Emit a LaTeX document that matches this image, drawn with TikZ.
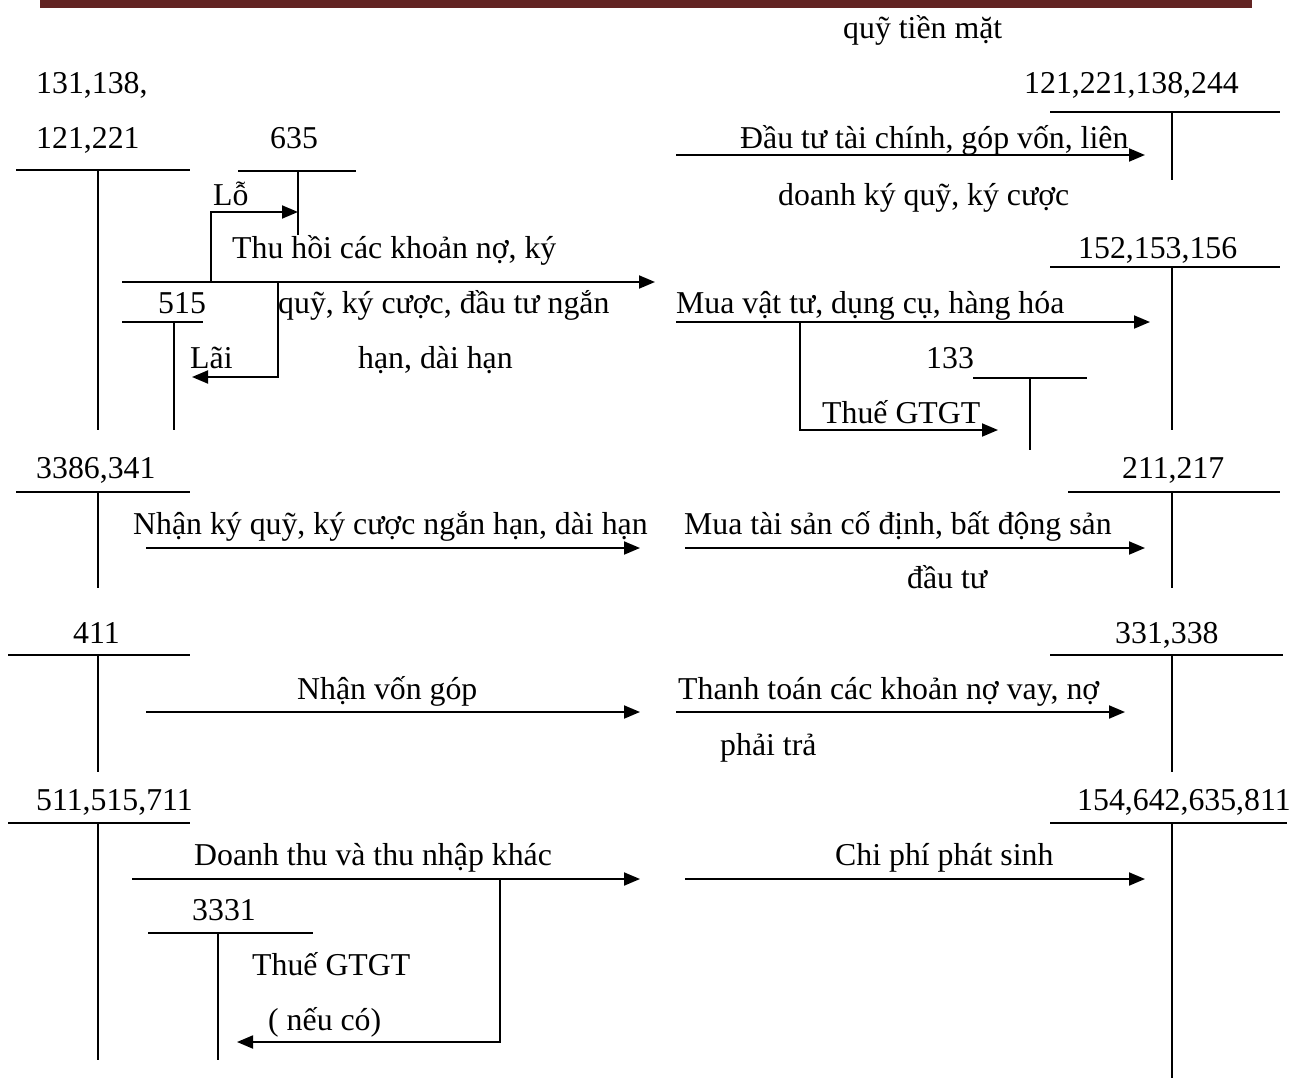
\documentclass[tikz,border=0pt]{standalone}
\usepackage{fontspec}
\setmainfont{Liberation Serif}
\usetikzlibrary{arrows.meta}
\definecolor{hbar}{HTML}{622423}
\tikzset{
  acc/.style  = {line width=1.9pt},
  flow/.style = {line width=1.9pt, -{Triangle[length=16pt,width=13pt]}},
  lbl/.style  = {inner sep=0pt, anchor=base west, font=\fontsize{31.8}{36}\selectfont},
}

\begin{document}
\begin{tikzpicture}[x=1pt,y=-1pt]
\useasboundingbox (0,0) rectangle (1292,1081);
% header bar
\fill[hbar] (40,0) rectangle (1252,8);
\node[lbl] (title) at (843,38) {quỹ tiền mặt};
% T-accounts: bar left, bar right, stem x, top, bottom
\foreach \name/\xl/\xr/\xs/\yt/\yb in {
  a131/16/190/98/170/430, a635/238/356/298/171/235, a515/122/203/174/322/430,
  a121/1050/1280/1172/112/180, a152/1050/1280/1172/267/430, a133/973/1087/1030/378/450,
  a3386/16/190/98/492/588, a211/1068/1280/1172/492/588,
  a411/8/190/98/655/772, a331/1050/1283/1172/655/772,
  a511/8/190/98/823/1060, a3331/148/313/218/933/1060, a154/1050/1287/1172/823/1078}{
  \coordinate (\name-l) at (\xl,\yt);
  \coordinate (\name-r) at (\xr,\yt);
  \coordinate (\name-t) at (\xs,\yt);
  \coordinate (\name-b) at (\xs,\yb);
  \draw[acc] (\name-l) -- (\name-r);
  \draw[acc] (\name-t) -- (\name-b);
}
% account numbers
\node[lbl] (n131)  at (36,93)    {131,138,};
\node[lbl] (n121)  at (36,148)   {121,221};
\node[lbl] (n635)  at (270,148)  {635};
\node[lbl] (n515)  at (158,313)  {515};
\node[lbl] (n121r) at (1024,93)  {121,221,138,244};
\node[lbl] (n152)  at (1078,258) {152,153,156};
\node[lbl] (n133)  at (926,368)  {133};
\node[lbl] (n3386) at (36,478)   {3386,341};
\node[lbl] (n211)  at (1122,478) {211,217};
\node[lbl] (n411)  at (73,643)   {411};
\node[lbl] (n331)  at (1115,643) {331,338};
\node[lbl] (n511)  at (36,810)   {511,515,711};
\node[lbl] (n154)  at (1077,810) {154,642,635,811};
\node[lbl] (n3331) at (192,920)  {3331};
% main flows: start x, end x, y
\foreach \name/\xa/\xb/\y in {
  thu/122/655/282, dautu/676/1145/155, mua/676/1150/322,
  nhan/146/640/548, tsan/685/1145/548, von/146/640/712,
  ttoan/676/1125/712, dthu/132/640/879, cphi/685/1145/879}{
  \coordinate (\name-s) at (\xa,\y);
  \coordinate (\name-e) at (\xb,\y);
  \draw[flow] (\name-s) -- (\name-e);
}
% side flows
\coordinate (lo-s) at (211,282);   \coordinate (lo-e) at (298,212);
\coordinate (lai-s) at (278,282);  \coordinate (lai-e) at (192,377);
\coordinate (v133-s) at (800,322); \coordinate (v133-e) at (998,430);
\coordinate (v3331-s) at (500,879); \coordinate (v3331-e) at (237,1042);
\draw[flow] (lo-s) |- (lo-e);
\draw[flow] (lai-s) |- (lai-e);
\draw[flow] (v133-s) |- (v133-e);
\draw[flow] (v3331-s) |- (v3331-e);
% flow texts
\node[lbl] (tlo)   at (213,205)  {Lỗ};
\node[lbl] (tthu1) at (232,258)  {Thu hồi các khoản nợ, ký};
\node[lbl] (tthu2) at (278,313)  {quỹ, ký cược, đầu tư ngắn};
\node[lbl] (tthu3) at (358,368)  {hạn, dài hạn};
\node[lbl] (tlai)  at (190,368)  {Lãi};
\node[lbl] (tdt1)  at (740,148)  {Đầu tư tài chính, góp vốn, liên};
\node[lbl] (tdt2)  at (778,205)  {doanh ký quỹ, ký cược};
\node[lbl] (tmua)  at (676,313)  {Mua vật tư, dụng cụ, hàng hóa};
\node[lbl] (tv133) at (822,423)  {Thuế GTGT};
\node[lbl] (tnhan) at (133,534)  {Nhận ký quỹ, ký cược ngắn hạn, dài hạn};
\node[lbl] (tts1)  at (684,534)  {Mua tài sản cố định, bất động sản};
\node[lbl] (tts2)  at (907,588)  {đầu tư};
\node[lbl] (tvon)  at (297,699)  {Nhận vốn góp};
\node[lbl] (ttt1)  at (678,699)  {Thanh toán các khoản nợ vay, nợ};
\node[lbl] (ttt2)  at (720,755)  {phải trả};
\node[lbl] (tdthu) at (194,865)  {Doanh thu và thu nhập khác};
\node[lbl] (tcphi) at (835,865)  {Chi phí phát sinh};
\node[lbl] (tv1)   at (252,975)  {Thuế GTGT};
\node[lbl] (tv2)   at (268,1030) {( nếu có)};
\end{tikzpicture}
\end{document}
